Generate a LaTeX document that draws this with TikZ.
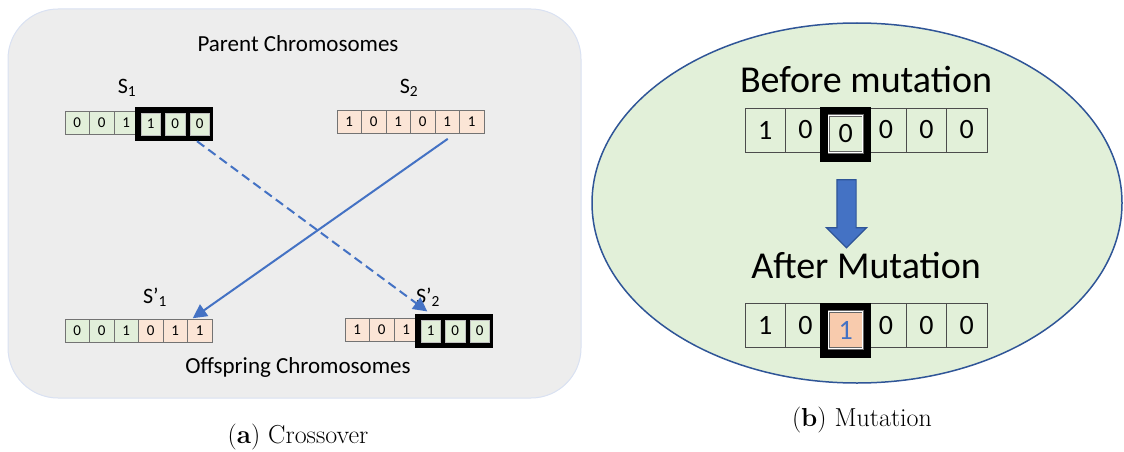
\documentclass[tikz,border=0pt]{standalone}
\usepackage{fontspec}
\setsansfont{Carlito}
\usepackage{xcolor}
\usepackage{tikz}
\usetikzlibrary{shapes.geometric, shapes.arrows, arrows.meta, positioning, calc}

\definecolor{panelgray}{HTML}{EDEDED}
\definecolor{panelline}{HTML}{D9E1F2}
\definecolor{genegreen}{HTML}{E2EFDA}
\definecolor{genepink}{HTML}{FBE5D6}
\definecolor{mutfill}{HTML}{F8CBAD}
\definecolor{ellfill}{HTML}{E2F0D9}
\definecolor{ellline}{HTML}{2F5597}
\definecolor{arrblue}{HTML}{4472C4}

\begin{document}
\begin{tikzpicture}[
    x=1pt, y=-1pt,
    panel/.style={draw=panelline, fill=panelgray, line width=1pt, rounded corners=50pt, minimum width=573pt, minimum height=389pt},
    gene/.style={draw=black!55, line width=0.6pt, fill=#1, minimum width=24.5pt, minimum height=23pt, inner sep=0pt, font=\sffamily\fontsize{15}{15}\selectfont},
    hlgene/.style={gene=#1, draw=white!75!black, line width=1pt, minimum width=19.5pt, minimum height=22pt},
    hlbox/.style={fill=black, minimum width=78.5pt, minimum height=34pt, inner sep=0pt},
    bit/.style={draw=black!70, line width=0.6pt, fill=ellfill, minimum width=40.3pt, minimum height=44pt, inner sep=0pt, font=\sffamily\fontsize{28}{28}\selectfont},
    midbit/.style={bit, fill=#1, draw=black!60, double=white, double distance=1.2pt, minimum width=34pt, minimum height=37pt},
    mutbox/.style={fill=black, minimum width=51pt, minimum height=55pt, inner sep=0pt},
    lbl/.style={font=\sffamily\fontsize{22}{22}\selectfont},
    head/.style={font=\sffamily\fontsize{23}{23}\selectfont},
    bighead/.style={font=\sffamily\fontsize{38}{38}\selectfont},
    captext/.style={font=\rmfamily\fontsize{26}{26}\selectfont},
    arr/.style={-{Triangle[length=14pt,width=14pt]}, line width=2pt, draw=arrblue},
    dasharr/.style={arr, dash pattern=on 9pt off 5pt},
    bigarr/.style={single arrow, shape border rotate=270, fill=arrblue, draw=ellline, line width=1.2pt, inner sep=9pt, minimum width=39pt, minimum height=68pt, single arrow head extend=10.5pt}
]
    \useasboundingbox (0,0) rectangle (1124,452);

    % Crossover panel
    \node[panel] (crossbox) at (294.5,203.5) {};
    \node[head] (parents)   at (298,44)  {Parent Chromosomes};
    \node[head] (offspring) at (298,367) {Offspring Chromosomes};

    \node[lbl] (s1lbl) at (127,88)  {S\textsubscript{1}};
    \node[lbl] (s2lbl) at (409,88)  {S\textsubscript{2}};
    \node[lbl] (o1lbl) at (155,297) {S’\textsubscript{1}};
    \node[lbl] (o2lbl) at (428,297) {S’\textsubscript{2}};

    % S1
    \foreach \b [count=\i] in {0,0,1}
        \node[gene=genegreen] (s1c\i) at ({65+(\i-0.5)*24.5},122.5) {\b};
    \node[hlbox] (s1box) at ({65+4.5*24.5-1.5},124) {};
    \foreach \b [count=\i from 4] in {1,0,0}
        \node[hlgene=genegreen] (s1c\i) at ({65+(\i-0.5)*24.5},124) {\b};

    % S2
    \foreach \b [count=\i] in {1,0,1,0,1,1}
        \node[gene=genepink] (s2c\i) at ({337+(\i-0.5)*24.5},122) {\b};

    % S'1
    \foreach \b [count=\i] in {0,0,1}
        \node[gene=genegreen] (o1c\i) at ({65+(\i-0.5)*24.5},330.5) {\b};
    \foreach \b [count=\i from 4] in {0,1,1}
        \node[gene=genepink] (o1c\i) at ({65+(\i-0.5)*24.5},330.5) {\b};

    % S'2
    \foreach \b [count=\i] in {1,0,1}
        \node[gene=genepink] (o2c\i) at ({345+(\i-0.5)*24.5},329.5) {\b};
    \node[hlbox] (o2box) at ({345+4.5*24.5-1.5},331) {};
    \foreach \b [count=\i from 4] in {1,0,0}
        \node[hlgene=genegreen] (o2c\i) at ({345+(\i-0.5)*24.5},331) {\b};

    % Crossing arrows
    \draw[dasharr, shorten >=4pt] (s1box) -- (o2box);
    \draw[arr, shorten <=14pt, shorten >=6pt] (s2c6) -- (o1c5);

    % Mutation panel
    \node[draw=ellline, fill=ellfill, ellipse, line width=1.5pt, minimum width=530pt, minimum height=360pt] (mutell) at (857,203) {};
    \node[bighead] (before) at (866,80)  {Before mutation};
    \node[bighead] (after)  at (866,265) {After Mutation};

    % before
    \foreach \b [count=\i] in {1,0}
        \node[bit] (bc\i) at ({745+(\i-0.5)*40.3},130) {\b};
    \foreach \b [count=\i from 4] in {0,0,0}
        \node[bit] (bc\i) at ({745+(\i-0.5)*40.3},130) {\b};
    \node[mutbox] (bbox) at ({745+2.5*40.3},134.5) {};
    \node[midbit=ellfill] (bc3) at ({745+2.5*40.3},134) {0};

    % after
    \foreach \b [count=\i] in {1,0}
        \node[bit] (ac\i) at ({745+(\i-0.5)*40.3},325.5) {\b};
    \foreach \b [count=\i from 4] in {0,0,0}
        \node[bit] (ac\i) at ({745+(\i-0.5)*40.3},325.5) {\b};
    \node[mutbox] (abox) at ({745+2.5*40.3},330.5) {};
    \node[midbit=mutfill, text=arrblue] (ac3) at ({745+2.5*40.3},330) {1};

    \node[bigarr] (mutarr) at (846.5,209) {};

    % Captions
    \node[captext] (capa) at (298,437) {(\textbf{a}) Crossover};
    \node[captext] (capb) at (862,420) {(\textbf{b}) Mutation};
\end{tikzpicture}
\end{document}
